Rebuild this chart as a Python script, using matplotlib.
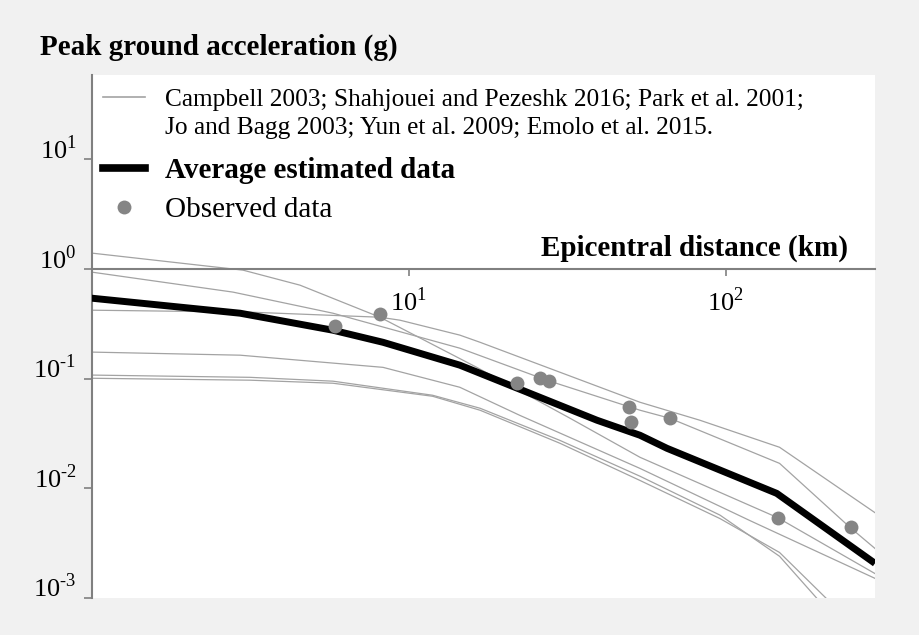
import matplotlib
matplotlib.use("Agg")
import matplotlib.pyplot as plt
from matplotlib.lines import Line2D
from matplotlib.ticker import FuncFormatter
from matplotlib.transforms import ScaledTranslation
import numpy as np

# 各推定式の曲線（震央距離 km, 最大加速度 g）
curve1_dist = [1.0, 3.0, 4.54, 8.12, 16.4, 32.3, 53.7, 146.0, 296.0]
curve1_pga = [1.40, 0.979, 0.714, 0.364, 0.127, 0.0436, 0.0192, 0.0054, 0.00167]

curve2_dist = [1.0, 2.79, 5.77, 14.5, 27.3, 53.7, 66.7, 148.0, 247.0, 296.0]
curve2_pga = [0.939, 0.617, 0.396, 0.190, 0.0969, 0.0516, 0.0436, 0.0169, 0.0044, 0.00283]

curve3_dist = [1.0, 3.16, 8.12, 9.39, 14.5, 16.8, 53.7, 83.0, 148.0, 296.0]
curve3_pga = [0.422, 0.405, 0.364, 0.342, 0.250, 0.215, 0.0610, 0.0418, 0.0237, 0.0060]

curve4_dist = [1.0, 2.94, 8.30, 14.5, 22.4, 53.7, 119.0, 296.0]
curve4_pga = [0.175, 0.164, 0.127, 0.0836, 0.0464, 0.0152, 0.0051, 0.00151]

curve5_dist = [1.0, 3.16, 5.77, 11.9, 16.8, 30.0, 53.7, 96.0, 148.0, 200.0]
curve5_pga = [0.108, 0.103, 0.095, 0.0707, 0.0538, 0.0274, 0.0129, 0.0057, 0.0024, 0.0009]

curve6_dist = [1.0, 3.16, 5.77, 11.9, 16.8, 30.0, 53.7, 96.0, 148.0, 215.0]
curve6_pga = [0.101, 0.097, 0.091, 0.0692, 0.0516, 0.0258, 0.0118, 0.0053, 0.0026, 0.0009]

# 平均推定値
avg_dist = [1.0, 2.94, 5.77, 8.30, 14.5, 39.3, 53.7, 65.3, 145.0, 296.0]
avg_pga = [0.543, 0.396, 0.277, 0.215, 0.133, 0.0418, 0.0305, 0.0232, 0.0090, 0.00207]

# 観測値
obs_dist = [5.85, 8.12, 22.0, 26.0, 27.7, 49.6, 50.3, 66.7, 146.0, 248.0]
obs_pga = [0.302, 0.388, 0.091, 0.101, 0.095, 0.0549, 0.0401, 0.0436, 0.0054, 0.0044]

model_label_1 = "Campbell 2003; Shahjouei and Pezeshk 2016; Park et al. 2001;"
model_label_2 = "Jo and Bagg 2003; Yun et al. 2009; Emolo et al. 2015."

curves = [
    (curve1_dist, curve1_pga),
    (curve2_dist, curve2_pga),
    (curve3_dist, curve3_pga),
    (curve4_dist, curve4_pga),
    (curve5_dist, curve5_pga),
    (curve6_dist, curve6_pga),
]

plt.rcParams["font.family"] = ["Liberation Serif", "DejaVu Serif"]
plt.rcParams["mathtext.fontset"] = "custom"
plt.rcParams["mathtext.rm"] = "Liberation Serif"

line_gray = "#a3a3a3"
axis_gray = "#808080"
dot_gray = "#858585"

fig = plt.figure(figsize=(9.19, 6.35), dpi=100, facecolor="#f1f1f1")
ax = fig.add_axes([0.0998, 0.0583, 0.8523, 0.8236])
ax.set_facecolor("white")

for dist, pga in curves:
    ax.plot(dist, pga, color=line_gray, lw=0.9, zorder=2)

ax.plot(avg_dist, avg_pga, color="black", lw=5, solid_capstyle="butt", zorder=3)
ax.plot(obs_dist, obs_pga, "o", color=dot_gray, ms=10, mec="none", zorder=4)

ax.set_xscale("log")
ax.set_yscale("log")
ax.set_xlim(1.0, 296)
ax.set_ylim(1e-3, 59)

# x軸は PGA = 1 の位置に置く
ax.spines["bottom"].set_position(("data", 1.0))
for side in ["top", "right"]:
    ax.spines[side].set_visible(False)
for side in ["left", "bottom"]:
    ax.spines[side].set_color(axis_gray)
    ax.spines[side].set_linewidth(1.5)


def power_label(v, pos):
    # 指数はハイフンで表示
    return r"$10^{\text{%d}}$" % int(round(np.log10(v)))


ax.set_xticks([10, 100])
ax.set_yticks([1e-3, 1e-2, 1e-1, 1, 10])
ax.minorticks_off()
ax.xaxis.set_major_formatter(FuncFormatter(power_label))
ax.yaxis.set_major_formatter(FuncFormatter(power_label))
ax.tick_params(axis="x", direction="out", length=5, width=1.2, color=axis_gray,
               labelsize=19, pad=8)
ax.tick_params(axis="y", direction="out", length=6, width=1.2, color=axis_gray,
               labelsize=19, pad=5)

# y目盛ラベルは目盛より少し上に
offset = ScaledTranslation(0, 9 / 72, fig.dpi_scale_trans)
for label in ax.get_yticklabels():
    label.set_transform(label.get_transform() + offset)

fig.text(40 / 919, 1 - 47 / 635, "Peak ground acceleration (g)",
         fontsize=21, fontweight="bold", va="center", ha="left")
ax.text(0.9655, 0.669, "Epicentral distance (km)", transform=ax.transAxes,
        fontsize=21, fontweight="bold", va="center", ha="right")

# 凡例（2つに分けて行間を合わせる）
h1 = Line2D([], [], color=line_gray, lw=1.2)
h2 = Line2D([], [], color="none")
leg1 = ax.legend([h1, h2], [model_label_1, model_label_2], loc="upper left",
                 bbox_to_anchor=(0.0144, 0.975), frameon=False, fontsize=18.3,
                 handlelength=1.65, handletextpad=0.79, labelspacing=0.21,
                 borderpad=0, borderaxespad=0)
ax.add_artist(leg1)

h3 = Line2D([], [], color="black", lw=5.5)
h4 = Line2D([], [], color=dot_gray, marker="o", ls="none", ms=10, mec="none")
leg2 = ax.legend([h3, h4], ["Average estimated data", "Observed data"],
                 loc="upper left", bbox_to_anchor=(0.0144, 0.843), frameon=False,
                 fontsize=21, handlelength=1.45, handletextpad=0.69,
                 labelspacing=0.42, borderpad=0, borderaxespad=0, numpoints=1)
leg2.get_texts()[0].set_fontweight("bold")

fig.savefig("out.png", dpi=100, facecolor=fig.get_facecolor())
